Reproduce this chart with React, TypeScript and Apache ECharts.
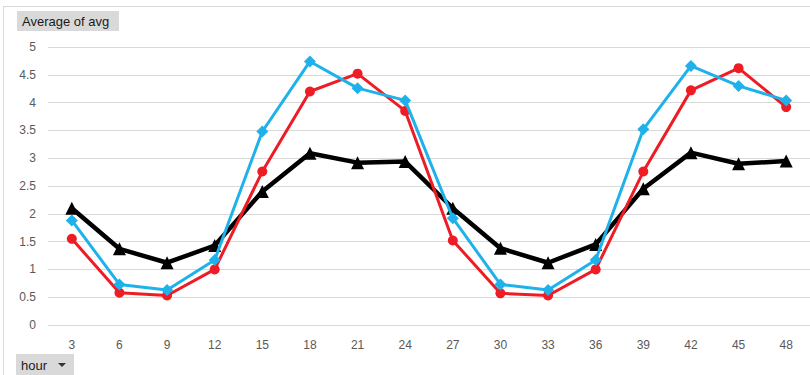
import React, { useEffect, useRef } from "react";
import * as echarts from "echarts";

const hours = ["3", "6", "9", "12", "15", "18", "21", "24", "27", "30", "33", "36", "39", "42", "45", "48"];
const redSeries = [1.55, 0.58, 0.53, 1.0, 2.76, 4.2, 4.52, 3.85, 1.52, 0.57, 0.53, 1.0, 2.76, 4.22, 4.62, 3.92];
const blueSeries = [1.88, 0.73, 0.63, 1.17, 3.48, 4.74, 4.26, 4.04, 1.92, 0.73, 0.63, 1.17, 3.52, 4.66, 4.3, 4.04];
const blackSeries = [2.1, 1.37, 1.12, 1.43, 2.4, 3.09, 2.92, 2.94, 2.1, 1.38, 1.12, 1.45, 2.45, 3.1, 2.9, 2.95];

const FONT = "'Liberation Sans Narrow', 'Liberation Sans', sans-serif";

export default function App() {
  const ref = useRef<HTMLDivElement>(null);

  useEffect(() => {
    if (!ref.current) return;
    const chart = echarts.init(ref.current, undefined, { renderer: "svg" });
    chart.setOption({
      animation: false,
      backgroundColor: "#ffffff",
      grid: { left: 48, right: -4, top: 47, bottom: 50 },
      xAxis: {
        type: "category",
        data: hours,
        boundaryGap: true,
        axisLine: { show: false },
        axisTick: { show: false },
        axisLabel: { color: "#595959", fontSize: 12, fontFamily: FONT, margin: 14 },
      },
      yAxis: {
        type: "value",
        min: 0,
        max: 5,
        interval: 0.5,
        axisLine: { show: false },
        axisTick: { show: false },
        axisLabel: { color: "#595959", fontSize: 12, fontFamily: FONT, margin: 12 },
        splitLine: { lineStyle: { color: "#d9d9d9", width: 1 } },
      },
      series: [
        {
          type: "line",
          data: blackSeries,
          symbol: "triangle",
          symbolSize: 13,
          lineStyle: { color: "#000000", width: 4.5 },
          itemStyle: { color: "#000000" },
          z: 3,
        },
        {
          type: "line",
          data: redSeries,
          symbol: "circle",
          symbolSize: 10,
          lineStyle: { color: "#ee1c25", width: 3 },
          itemStyle: { color: "#ee1c25" },
          z: 4,
        },
        {
          type: "line",
          data: blueSeries,
          symbol: "diamond",
          symbolSize: 12,
          lineStyle: { color: "#1fb2ea", width: 3 },
          itemStyle: { color: "#1fb2ea" },
          z: 5,
        },
      ],
      graphic: [
        { type: "line", shape: { x1: 3, y1: 6.5, x2: 810, y2: 6.5 }, style: { stroke: "#d9d9d9", lineWidth: 1 } },
        { type: "line", shape: { x1: 3.5, y1: 6, x2: 3.5, y2: 375 }, style: { stroke: "#d9d9d9", lineWidth: 1 } },
        { type: "rect", shape: { x: 17, y: 11, width: 102, height: 20 }, style: { fill: "#d9d9d9" } },
        {
          type: "text",
          x: 22,
          y: 21,
          style: { text: "Average of avg", fill: "#1a1a1a", fontSize: 13, fontFamily: FONT, verticalAlign: "middle" },
        },
        { type: "rect", shape: { x: 16, y: 354, width: 58, height: 21 }, style: { fill: "#d9d9d9" } },
        {
          type: "text",
          x: 21,
          y: 365,
          style: { text: "hour", fill: "#1a1a1a", fontSize: 13, fontFamily: FONT, verticalAlign: "middle" },
        },
        { type: "polygon", shape: { points: [[58, 363], [66, 363], [62, 367]] }, style: { fill: "#333333" } },
      ],
    });
    return () => chart.dispose();
  }, []);

  return <div ref={ref} style={{ position: "fixed", left: 0, top: 0, width: 810, height: 375 }} />;
}
